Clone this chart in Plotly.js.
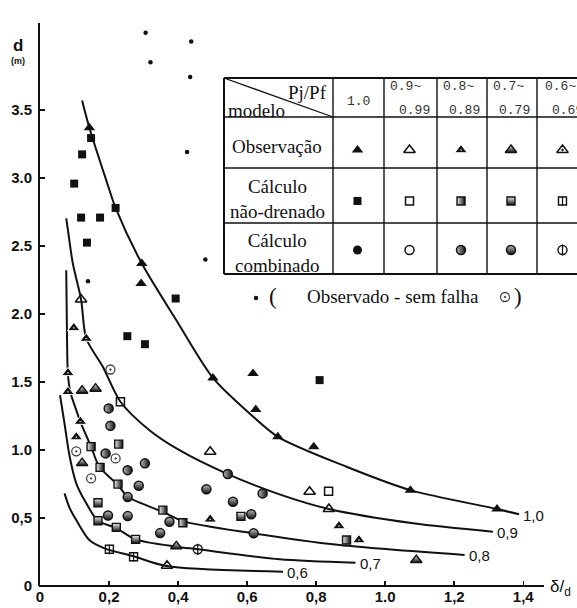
<!DOCTYPE html>
<html>
<head>
<meta charset="utf-8">
<script src="https://cdn.plot.ly/plotly-3.0.1.min.js"></script>
<style>html,body{margin:0;padding:0;background:#fff}</style>
</head>
<body>
<div id="chart" style="width:577px;height:608px"></div>
<script>
// ---- Design curves d (m) versus δ/d, one per Pj/Pf ratio ----
const curveLabels = ['1,0', '0,9', '0,8', '0,7', '0,6'];
const curve10X = [0.122, 0.143, 0.192, 0.219, 0.295, 0.395, 0.501, 0.607, 0.689, 0.888, 1.073, 1.324, 1.388];
const curve10Y = [3.571, 3.370, 2.983, 2.780, 2.371, 1.954, 1.530, 1.269, 1.097, 0.877, 0.705, 0.566, 0.527];
const curve09X = [0.076, 0.081, 0.095, 0.119, 0.134, 0.182, 0.233, 0.317, 0.404, 0.544, 0.694, 0.837, 1.081, 1.312];
const curve09Y = [2.704, 2.616, 2.373, 2.107, 1.820, 1.612, 1.355, 1.146, 0.999, 0.823, 0.674, 0.566, 0.461, 0.399];
const curve08X = [0.076, 0.078, 0.081, 0.088, 0.103, 0.117, 0.148, 0.172, 0.226, 0.254, 0.356, 0.414, 0.617, 0.868, 1.230];
const curve08Y = [2.322, 1.881, 1.550, 1.425, 1.308, 1.207, 1.024, 0.877, 0.742, 0.656, 0.545, 0.477, 0.387, 0.301, 0.228];
const curve07X = [0.058, 0.071, 0.086, 0.105, 0.132, 0.168, 0.221, 0.277, 0.395, 0.457, 0.694, 0.914];
const curve07Y = [1.403, 1.195, 0.950, 0.755, 0.617, 0.480, 0.425, 0.343, 0.289, 0.270, 0.196, 0.171];
const curve06X = [0.071, 0.086, 0.105, 0.143, 0.187, 0.269, 0.366, 0.704];
const curve06Y = [0.681, 0.573, 0.485, 0.338, 0.277, 0.220, 0.147, 0.105];

// ---- Observed failures (triangles) by Pj/Pf class ----
const obs10X = [0.143, 0.295, 0.293, 0.501, 0.617, 0.625, 0.689, 0.793, 1.073, 1.324];
const obs10Y = [3.370, 2.371, 2.224, 1.530, 1.563, 1.298, 1.097, 1.024, 0.705, 0.566];
const obs09X = [0.119, 0.493, 0.781, 0.837];
const obs09Y = [2.107, 0.987, 0.693, 0.566];
const obs08X = [0.098, 0.134, 0.081, 0.081, 0.117, 0.105, 0.493, 0.866, 0.924];
const obs08Y = [1.898, 1.820, 1.567, 1.428, 1.209, 1.095, 0.490, 0.441, 0.338];
const obs07X = [0.122, 0.161, 0.122, 0.395, 1.090];
const obs07Y = [1.436, 1.451, 0.904, 0.292, 0.191];
const obs06X = [0.368];
const obs06Y = [0.149];

// ---- Undrained calculation (squares) ----
const und10X = [0.148, 0.122, 0.099, 0.119, 0.174, 0.219, 0.136, 0.253, 0.304, 0.393, 0.810];
const und10Y = [3.294, 3.174, 2.959, 2.709, 2.709, 2.780, 2.525, 1.837, 1.778, 2.114, 1.514];
const und09X = [0.233, 0.836];
const und09Y = [1.354, 0.696];
const und08X = [0.148, 0.228, 0.174, 0.226, 0.356, 0.414, 0.888];
const und08Y = [1.025, 1.043, 0.872, 0.749, 0.558, 0.465, 0.338];
const und07X = [0.168, 0.168, 0.221, 0.277, 0.582];
const und07Y = [0.612, 0.480, 0.431, 0.343, 0.512];
const und06X = [0.201, 0.271];
const und06Y = [0.270, 0.215];

// ---- Combined calculation (circles) ----
const comb08X = [0.199, 0.204, 0.190, 0.304, 0.254, 0.544, 0.645];
const comb08Y = [1.306, 1.178, 0.975, 0.902, 0.852, 0.823, 0.681];
const comb07X = [0.286, 0.254, 0.197, 0.254, 0.375, 0.348, 0.482, 0.559, 0.612, 0.619];
const comb07Y = [0.737, 0.654, 0.518, 0.514, 0.472, 0.389, 0.711, 0.619, 0.528, 0.387];
const comb06X = [0.457];
const comb06Y = [0.270];

// ---- Observed without failure ----
const noFailDotX = [0.306, 0.438, 0.320, 0.435, 0.426, 0.479, 0.139];
const noFailDotY = [4.068, 4.004, 3.852, 3.742, 3.191, 2.400, 2.241];
const noFailRingX = [0.204, 0.105, 0.219, 0.148];
const noFailRingY = [1.592, 0.990, 0.938, 0.791];

// ---- Axis ticks ----
const xTickVals = [0, 0.2, 0.4, 0.6, 0.8, 1.0, 1.2, 1.4];
const xTickText = ['0', '0,2', '0,4', '0,6', '0,8', '1.0', '1,2', '1,4'];
const yTickVals = [0, 0.5, 1.0, 1.5, 2.0, 2.5, 3.0, 3.5];
const yTickText = ['0', '0,5', '1.0', '1.5', '2.0', '2.5', '3.0', '3.5'];

// ---- Key table texts ----
const ratioTop = ['1.0', '0.9~', '0.8~', '0.7~', '0.6~'];
const ratioBottom = ['', '0.99', '0.89', '0.79', '0.69'];
const rowNames = ['Observação', 'Cálculo<br>não-drenado', 'Cálculo<br>combinado'];
const noFailText = 'Observado - sem falha';

// ================= drawing =================
const K = '#111';
const SERIF = 'Liberation Serif, Times New Roman, serif';
const SANS = 'Liberation Sans, Arial, sans-serif';
const MONO = 'Liberation Mono, DejaVu Sans Mono, monospace';

// marker looks for the five Pj/Pf classes (a list of stacked layers each)
const obsStyles = [
  [{symbol: 'triangle-up', size: 10, color: K, line: {width: 0}}],
  [{symbol: 'triangle-up-open', size: 10, color: K, line: {color: K, width: 1.6}}],
  [{symbol: 'triangle-up-dot', size: 11, color: K, line: {color: '#fff', width: 1}}],
  [{symbol: 'triangle-up', size: 10, color: '#eee', gradient: {type: 'vertical', color: K}, line: {color: K, width: 1.4}}],
  [{symbol: 'triangle-up-open-dot', size: 10, color: K, line: {color: K, width: 1.5}}]
];
const undStyles = [
  [{symbol: 'square', size: 8, color: K, line: {width: 0}}],
  [{symbol: 'square-open', size: 8, color: K, line: {color: K, width: 1.5}}],
  [{symbol: 'square', size: 8, color: '#eee', gradient: {type: 'horizontal', color: K}, line: {color: K, width: 1.4}}],
  [{symbol: 'square', size: 8, color: '#eee', gradient: {type: 'vertical', color: K}, line: {color: K, width: 1.4}}],
  [{symbol: 'square-open', size: 8, color: K, line: {color: K, width: 1.4}},
   {symbol: 'line-ns', size: 7, color: K, line: {color: K, width: 1.2}}]
];
const combStyles = [
  [{symbol: 'circle', size: 9, color: K, line: {width: 0}}],
  [{symbol: 'circle-open', size: 9, color: K, line: {color: K, width: 1.5}}],
  [{symbol: 'circle', size: 9, color: '#bbb', gradient: {type: 'horizontal', color: K}, line: {color: K, width: 1.5}}],
  [{symbol: 'circle', size: 9, color: '#bbb', gradient: {type: 'vertical', color: K}, line: {color: K, width: 1.5}}],
  [{symbol: 'circle-open', size: 9, color: K, line: {color: K, width: 1.4}},
   {symbol: 'line-ns', size: 8, color: K, line: {color: K, width: 1.2}}]
];
const dotStyle = [{symbol: 'circle', size: 4.5, color: K, line: {width: 0}}];
const ringStyle = [{symbol: 'circle-open-dot', size: 9, color: '#444', line: {color: '#444', width: 1.3}}];

const traces = [];

// curves
const curves = [[curve10X, curve10Y], [curve09X, curve09Y], [curve08X, curve08Y], [curve07X, curve07Y], [curve06X, curve06Y]];
curves.forEach(([cx, cy]) => traces.push({
  type: 'scatter', mode: 'lines', x: cx, y: cy,
  line: {color: K, width: 2, shape: 'spline', smoothing: 0.8},
  hoverinfo: 'skip', showlegend: false
}));

function addPoints(xs, ys, layers) {
  layers.forEach(m => traces.push({
    type: 'scatter', mode: 'markers', x: xs, y: ys, marker: m,
    hoverinfo: 'skip', showlegend: false, cliponaxis: false
  }));
}

addPoints(obs10X, obs10Y, obsStyles[0]);
addPoints(obs09X, obs09Y, obsStyles[1]);
addPoints(obs08X, obs08Y, obsStyles[2]);
addPoints(obs07X, obs07Y, obsStyles[3]);
addPoints(obs06X, obs06Y, obsStyles[4]);
addPoints(und10X, und10Y, undStyles[0]);
addPoints(und09X, und09Y, undStyles[1]);
addPoints(und08X, und08Y, undStyles[2]);
addPoints(und07X, und07Y, undStyles[3]);
addPoints(und06X, und06Y, undStyles[4]);
addPoints(comb08X, comb08Y, combStyles[2]);
addPoints(comb07X, comb07Y, combStyles[3]);
addPoints(comb06X, comb06Y, combStyles[4]);
addPoints(noFailDotX, noFailDotY, dotStyle);
addPoints(noFailRingX, noFailRingY, ringStyle);

// ---- page geometry: the plot area runs to the right edge so the key table can overhang ----
const plotL = 40, plotR = 577, plotT = 23, plotB = 586;
const axisEnd = 544;              // where the drawn x-axis line stops
const pxPerUnitX = 345.2;
const PX = p => (p - plotL) / (plotR - plotL);
const PY = p => (plotB - p) / (plotB - plotT);

const colEdges = [224, 333, 384, 437, 487, 537, 590];
const rowEdges = [78, 117, 168, 223, 274];
const keyRowY = [150, 201, 250];
const colCenter = i => (colEdges[i + 1] + colEdges[i + 2]) / 2;

function addKey(px, py, layers) {
  layers.forEach(m => traces.push({
    type: 'scatter', mode: 'markers', x: [px], y: [py], xaxis: 'x2', yaxis: 'y2',
    marker: m, hoverinfo: 'skip', showlegend: false, cliponaxis: false
  }));
}
for (let i = 0; i < 5; i++) {
  const cx = colCenter(i) - 1;
  addKey(cx, keyRowY[0], obsStyles[i]);
  addKey(cx, keyRowY[1], undStyles[i]);
  addKey(cx, keyRowY[2], combStyles[i]);
}
addKey(256, 298, dotStyle);
addKey(505, 297, ringStyle);

const shapes = [];
function rule(x0, y0, x1, y1, w) {
  shapes.push({type: 'line', xref: 'paper', yref: 'paper',
    x0: PX(x0), y0: PY(y0), x1: PX(x1), y1: PY(y1), line: {color: K, width: w}});
}
// x-axis line
rule(plotL - 1, plotB, axisEnd, plotB, 2);
// table grid
rowEdges.forEach((y, i) => rule(colEdges[0], y, 600, y, (i === 0 || i === rowEdges.length - 1) ? 2 : 1.4));
colEdges.slice(0, 6).forEach((x, i) => rule(x, rowEdges[0], x, rowEdges[rowEdges.length - 1], i === 0 ? 2 : 1.4));
rule(colEdges[0], rowEdges[0], colEdges[1], rowEdges[1], 1.3);

const annotations = [];
function label(text, px, py, font, xanchor) {
  annotations.push({text: text, xref: 'paper', yref: 'paper', x: PX(px), y: PY(py),
    xanchor: xanchor || 'center', yanchor: 'middle', showarrow: false, font: font});
}

// axis captions
label('<b>d</b>', 18, 46, {family: SANS, size: 17, color: K});
label('<b>(m)</b>', 18, 61, {family: SANS, size: 9, color: K});
label('δ/<sub>d</sub>', 560, 588, {family: SANS, size: 17, color: K});

// curve end labels
curves.forEach(([cx, cy], i) => annotations.push({
  text: curveLabels[i], x: cx[cx.length - 1], y: cy[cy.length - 1], xref: 'x', yref: 'y',
  xanchor: 'left', yanchor: 'middle', xshift: 2, yshift: -1, showarrow: false,
  font: {family: SANS, size: 15, color: K}
}));

// table header
label('Pj/Pf', 307, 93, {family: SERIF, size: 19, color: K});
label('modelo', 256, 110, {family: SERIF, size: 19, color: K});
for (let i = 0; i < 5; i++) {
  const l = colEdges[i + 1], r = colEdges[i + 2];
  if (ratioBottom[i] === '') {
    label(ratioTop[i], (l + r) / 2, 101, {family: MONO, size: 13, color: '#333'});
  } else {
    label(ratioTop[i], l + (i === 4 ? 6 : 4), 87, {family: MONO, size: 13, color: '#333'}, 'left');
    label(ratioBottom[i], (i === 4 ? l + 13 : r - 5), 110, {family: MONO, size: 13, color: '#333'}, i === 4 ? 'left' : 'right');
  }
}
const rowTextY = [146, 199, 253];
rowNames.forEach((t, i) => label(t, 277, rowTextY[i], {family: SERIF, size: 19, color: K}));

// no-failure key line
label('(', 273, 296, {family: SERIF, size: 23, color: K});
label(noFailText, 393, 296, {family: SERIF, size: 19, color: K});
label(')', 518, 296, {family: SERIF, size: 23, color: K});

const axisFont = {family: SANS, size: 15, color: K, weight: 'bold'};
const layout = {
  width: 577, height: 608,
  margin: {l: plotL, r: 577 - plotR, t: plotT, b: 608 - plotB},
  paper_bgcolor: '#fff', plot_bgcolor: '#fff',
  showlegend: false,
  xaxis: {range: [0, (plotR - plotL) / pxPerUnitX], showline: false,
    ticks: 'inside', ticklen: 5, tickwidth: 1.5, tickcolor: K,
    showgrid: false, zeroline: false, tickvals: xTickVals, ticktext: xTickText,
    tickfont: axisFont, fixedrange: true},
  yaxis: {range: [0, 4.14], showline: true, linewidth: 2, linecolor: K, mirror: false,
    ticks: 'inside', ticklen: 5, tickwidth: 1.5, tickcolor: K,
    showgrid: false, zeroline: false, tickvals: yTickVals, ticktext: yTickText,
    tickfont: axisFont, ticklabelstandoff: 3, fixedrange: true},
  xaxis2: {overlaying: 'x', anchor: 'y2', range: [plotL, plotR], visible: false, fixedrange: true},
  yaxis2: {overlaying: 'y', anchor: 'x2', range: [plotB, plotT], visible: false, fixedrange: true},
  shapes: shapes,
  annotations: annotations
};

Plotly.newPlot('chart', traces, layout, {staticPlot: true, displayModeBar: false});
</script>
</body>
</html>
